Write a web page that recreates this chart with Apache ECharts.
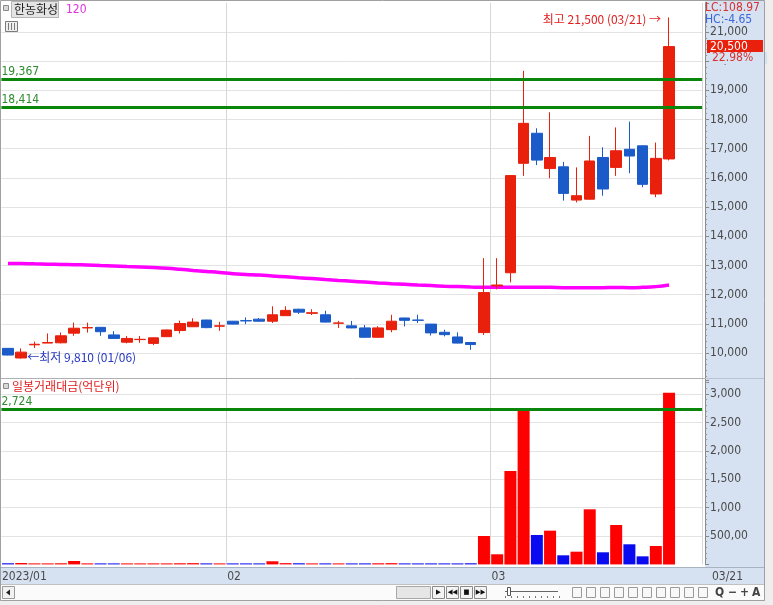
<!DOCTYPE html>
<html><head><meta charset="utf-8">
<script src="https://cdn.jsdelivr.net/npm/echarts@6.0.0/dist/echarts.min.js"></script>
<style>html,body{margin:0;padding:0;background:#fff}#c{width:773px;height:605px}</style>
</head><body><div id="c"></div>
<script>
// ---- data ----
const dates = ['01/05','01/06','01/09','01/10','01/11','01/12','01/13','01/16','01/17','01/18','01/19','01/20','01/25','01/26','01/27','01/30','01/31',
 '02/01','02/02','02/03','02/06','02/07','02/08','02/09','02/10','02/13','02/14','02/15','02/16','02/17','02/20','02/21','02/22','02/23','02/24','02/27','02/28',
 '03/02','03/03','03/06','03/07','03/08','03/09','03/10','03/13','03/14','03/15','03/16','03/17','03/20','03/21'];
const opens  = [10160,9830,10280,10340,10350,10680,10860,10880,10620,10370,10460,10330,10560,10770,10900,11130,10920,
 11090,11110,11160,11090,11280,11500,11360,11310,11020,10930,10860,10540,10800,11200,11130,10990,10710,10550,10360,10700,
 12300,12750,16500,17530,16320,16380,15240,15270,16700,16360,16980,17100,15450,16650];
const closes = [9930,10030,10300,10360,10590,10850,10870,10730,10500,10500,10470,10520,10790,11010,11060,10870,10930,
 10990,11100,11090,11310,11460,11400,11380,11060,11030,10860,10540,10860,11090,11120,11120,10690,10630,10340,10290,12070,
 12330,16080,17870,16610,16700,15470,15390,16580,15620,16930,16750,15780,16670,20500];
const lows   = [9920,9810,10170,10340,10330,10590,10700,10590,10490,10330,10350,10270,10550,10670,10890,10850,10760,
 10980,10990,11070,11030,11270,11340,11300,11050,10860,10850,10520,10530,10710,10910,11030,10600,10570,10330,10110,10620,
 12180,12420,16070,16440,15990,15220,15160,15260,15390,16070,16160,15680,15340,16600];
const highs  = [10170,10160,10390,10670,10700,11040,11040,10890,10750,10580,10580,10530,10800,11110,11190,11140,11070,
 11100,11220,11200,11600,11600,11520,11500,11450,11100,11100,10960,10920,11310,11210,11310,11000,10800,10710,10380,13250,
 13250,16080,19670,17700,18250,16550,16360,17440,17050,17730,17930,17110,17210,21500];
const ma120  = [13070,13065,13055,13045,13035,13025,13015,13000,12985,12965,12950,12930,12905,12870,12830,12795,12760,
 12715,12690,12670,12640,12610,12580,12550,12515,12485,12460,12430,12400,12375,12355,12330,12310,12290,12275,12260,12250,
 12250,12250,12255,12255,12250,12240,12235,12235,12240,12245,12240,12250,12275,12330];
const tradeValue = [20,25,15,15,20,60,18,15,14,15,12,18,16,20,22,18,15,
 16,15,14,55,22,20,14,18,15,14,18,20,22,15,14,18,15,16,20,500,
 178,1644,2724,518,594,160,224,970,213,694,354,142,324,3023];
const priceLevels = [19367, 18414];
const valueLevel = 2724;
const xMonthLabels = [{idx:0,text:'2023/01'},{idx:17,text:'02'},{idx:37,text:'03'}];
const lastDateLabel = '03/21';

// ---- style ----
const RED='#e8200c', BLUE='#1b5bc9', VRED='#ff0000', VBLUE='#0a0af0', GREEN='#0a860a', PANEL='#d6e2f1';
const NARROW='"Liberation Sans Narrow","DejaVu Sans Condensed",Arial,sans-serif';
const KR='"Noto Sans CJK KR","Noto Sans",sans-serif';
const cats = dates.concat(['','']);
function comma(v){return String(v).replace(/\B(?=(\d{3})+(?!\d))/g, ',');}

const priceSplit=[]; for(let v=9000; v<=22000; v+=1000) priceSplit.push((v===9000||v===22000)?'rgba(0,0,0,0)':'#e3e3e3');
const volSplit=[]; for(let v=0; v<=3000; v+=500) volSplit.push(v===0?'rgba(0,0,0,0)':'#e3e3e3'); volSplit.push('rgba(0,0,0,0)');

const chart = echarts.init(document.getElementById('c'), null, {renderer:'canvas', width:773, height:605});
const GL=1.4, GW=700.7;
const yAxisCommon = {
  position:'right', offset:3,
  axisLine:{show:true, lineStyle:{color:'#8a8a8a', width:1}},
  axisTick:{show:true, length:4, lineStyle:{color:'#8a8a8a'}},
  minorTick:{show:true, splitNumber:5, length:2, lineStyle:{color:'#9a9a9a'}},
  minorSplitLine:{show:false}
};
const labelStyle = {color:'#4a4a4a', fontFamily:NARROW, fontSize:12, margin:5};

chart.setOption({
  animation:false,
  backgroundColor:'#ffffff',
  grid:[
    {left:GL, width:GW, top:2.8, height:379.4, outerBoundsMode:'none', containLabel:false},
    {left:GL, width:GW, top:379.8, height:184.6, outerBoundsMode:'none', containLabel:false}
  ],
  xAxis:[
    {type:'category', gridIndex:0, data:cats, boundaryGap:true, axisLine:{show:false}, axisTick:{show:false}, axisLabel:{show:false},
     splitLine:{show:true, interval:(i)=>i===17||i===37, lineStyle:{color:'#d6d6d6'}}},
    {type:'category', gridIndex:1, data:cats, boundaryGap:true, axisLine:{show:false}, axisTick:{show:false}, axisLabel:{show:false},
     splitLine:{show:true, interval:(i)=>i===17||i===37, lineStyle:{color:'#d6d6d6'}}}
  ],
  yAxis:[
    Object.assign({type:'value', gridIndex:0, min:9000, max:22000, interval:1000, scale:false,
      axisLabel:Object.assign({formatter:(v)=>(v<10000||v>21000)?'':comma(v)}, labelStyle),
      splitLine:{show:true, lineStyle:{color:priceSplit, width:1}}}, yAxisCommon),
    Object.assign({type:'value', gridIndex:1, min:0, max:3250, interval:500,
      axisLabel:Object.assign({formatter:(v)=>v===0||v>3000?'':(v===500?'500,00':comma(v))}, labelStyle),
      splitLine:{show:true, lineStyle:{color:volSplit, width:1}}}, yAxisCommon)
  ],
  series:[
    {type:'line', name:'120', xAxisIndex:0, yAxisIndex:0, data:ma120, symbol:'none', smooth:true,
     lineStyle:{color:'#ff00ff', width:3.5}, z:2, silent:true},
    {type:'candlestick', xAxisIndex:0, yAxisIndex:0, barWidth:11, z:3,
     data:dates.map((d,i)=>[opens[i],closes[i],lows[i],highs[i]]),
     itemStyle:{color:RED, color0:BLUE, borderColor:RED, borderColor0:BLUE, borderWidth:1},
     markLine:{silent:true, symbol:['none','none'], animation:false,
       lineStyle:{color:GREEN, width:3, type:'solid'},
       label:{show:true, position:'insideStartTop', formatter:(p)=>comma(p.value), color:'#2e8b2e', fontFamily:NARROW, fontSize:12, distance:[0,2]},
       emphasis:{disabled:true},
       data:priceLevels.map(v=>({yAxis:v}))}
    },
    {type:'bar', xAxisIndex:1, yAxisIndex:1, barWidth:12, barMinHeight:1, z:3,
     data:tradeValue.map((v,i)=>({value:v, itemStyle:{color: closes[i]>=opens[i]?VRED:VBLUE}})),
     markLine:{silent:true, symbol:['none','none'], animation:false,
       lineStyle:{color:GREEN, width:3, type:'solid'},
       label:{show:true, position:'insideStartTop', formatter:(p)=>comma(p.value), color:'#2e8b2e', fontFamily:NARROW, fontSize:12, distance:[0,2]},
       emphasis:{disabled:true},
       data:[{yAxis:valueLevel}]}
    }
  ]
});

// ---- overlays positioned through the chart's own scales ----
const band = GW/cats.length;
const bx = (i)=>chart.convertToPixel({xAxisIndex:1}, i) - band/2;
const hiPt = chart.convertToPixel({gridIndex:0}, [dates.length-1, highs[dates.length-1]]);
let loIdx = 0; lows.forEach((v,i)=>{ if(v<lows[loIdx]) loIdx=i; });
const loPt = chart.convertToPixel({gridIndex:0}, [loIdx, lows[loIdx]]);
const lastClose = closes[closes.length-1], prevClose = closes[closes.length-2];
const lcY = chart.convertToPixel({yAxisIndex:0}, lastClose);
const pct = ((lastClose/prevClose-1)*100).toFixed(2);

const g = [];
// backgrounds
g.push({type:'rect', z:-10, shape:{x:705, y:0, width:60, height:585}, style:{fill:PANEL}});
g.push({type:'rect', z:-10, shape:{x:0, y:567.5, width:765, height:17}, style:{fill:PANEL, stroke:'#a9b4c2', lineWidth:1}});
g.push({type:'rect', z:-10, shape:{x:765, y:0, width:8, height:605}, style:{fill:'#eeeeee'}});
g.push({type:'line', z:5, shape:{x1:0, y1:378.5, x2:705, y2:378.5}, style:{stroke:'#b0b0b0', lineWidth:1}});
g.push({type:'line', z:5, shape:{x1:705, y1:378.5, x2:765, y2:378.5}, style:{stroke:'#b8c4d2', lineWidth:1}});
// header
g.push({type:'rect', z:10, shape:{x:3.5, y:5.5, width:5, height:5}, style:{fill:'#d8d8d8', stroke:'#8a8a8a', lineWidth:1}});
g.push({type:'rect', z:10, shape:{x:11.5, y:1.5, width:47, height:16}, style:{fill:'#e4e4e4', stroke:'#b4b4b4', lineWidth:1}});
g.push({type:'text', z:11, x:14, y:9.5, style:{text:'한농화성', fill:'#222', font:'12px '+KR, textVerticalAlign:'middle'}});
g.push({type:'text', z:11, x:66, y:9.5, style:{text:'120', fill:'#e030e0', font:'12px '+NARROW, textVerticalAlign:'middle'}});
g.push({type:'rect', z:10, shape:{x:5.5, y:21.5, width:12, height:10}, style:{fill:'#eeeeee', stroke:'#7a7a7a', lineWidth:1}});
[8.5,11.5,14.5].forEach(x=>g.push({type:'line', z:11, shape:{x1:x, y1:23, x2:x, y2:30}, style:{stroke:'#7a7a7a', lineWidth:1}}));
// right top texts
g.push({type:'text', z:11, x:705, y:8, style:{text:'LC:108.97', fill:'#d83030', font:'12px '+NARROW, textVerticalAlign:'middle'}});
g.push({type:'text', z:11, x:705, y:19.5, style:{text:'HC:-4.65', fill:'#3a66d6', font:'12px '+NARROW, textVerticalAlign:'middle'}});
g.push({type:'rect', z:11, shape:{x:707, y:lcY-6.5, width:56, height:13}, style:{fill:'#e8200c'}});
g.push({type:'text', z:12, x:710, y:lcY, style:{text:comma(lastClose), fill:'#ffffff', font:'12px '+NARROW, textVerticalAlign:'middle'}});
g.push({type:'text', z:12, x:710, y:lcY+11.5, style:{text:pct+'%', fill:'#d83030', font:'12px '+NARROW, textVerticalAlign:'middle', backgroundColor:PANEL, padding:[0,14,0,2]}});
// annotations
g.push({type:'text', z:12, x:hiPt[0]-8, y:hiPt[1]+2, style:{text:'최고 '+comma(highs[highs.length-1])+' ('+dates[dates.length-1]+') →', fill:'#e02020', font:'12px '+KR, textAlign:'right', textVerticalAlign:'middle'}});
g.push({type:'text', z:12, x:loPt[0]+6, y:loPt[1]-1, style:{text:'←최저 '+comma(lows[loIdx])+' ('+dates[loIdx]+')', fill:'#2638c0', font:'12px '+KR, textVerticalAlign:'middle'}});
// volume pane header
g.push({type:'rect', z:10, shape:{x:3.5, y:383.5, width:5, height:5}, style:{fill:'#d8d8d8', stroke:'#8a8a8a', lineWidth:1}});
g.push({type:'text', z:11, x:12, y:386.5, style:{text:'일봉거래대금(억단위)', fill:'#e02020', font:'12px '+KR, textVerticalAlign:'middle'}});
// x labels
xMonthLabels.forEach(m=>{
  const x = m.idx===0 ? 2 : bx(m.idx)+1;
  g.push({type:'text', z:11, x:x, y:576.5, style:{text:m.text, fill:'#4a4a4a', font:'12px '+NARROW, textVerticalAlign:'middle'}});
});
g.push({type:'text', z:11, x:712, y:576.5, style:{text:lastDateLabel, fill:'#4a4a4a', font:'12px '+NARROW, textVerticalAlign:'middle'}});
// toolbar
g.push({type:'rect', z:5, shape:{x:0.5, y:584.5, width:764, height:16}, style:{fill:'#fbfbfb', stroke:'#c0c0c0', lineWidth:1}});
g.push({type:'rect', z:6, shape:{x:2.5, y:586.5, width:12, height:12}, style:{fill:'#f2f2f2', stroke:'#9a9a9a', lineWidth:1}});
g.push({type:'polygon', z:7, shape:{points:[[6,592.5],[10,589.5],[10,595.5]]}, style:{fill:'#222'}});
g.push({type:'rect', z:6, shape:{x:396.5, y:586.5, width:34, height:12}, style:{fill:'#e6e6e6', stroke:'#a8a8a8', lineWidth:1}});
[432,446,460,474].forEach((x,k)=>{
  g.push({type:'rect', z:6, shape:{x:x+0.5, y:586.5, width:12, height:12}, style:{fill:'#f4f4f4', stroke:'#8a8a8a', lineWidth:1}});
  g.push({type:'text', z:7, x:x+6.5, y:592.5, style:{text:['▶','◀◀','■','▶▶'][k], fill:'#111', font:'7px '+NARROW, textAlign:'center', textVerticalAlign:'middle'}});
});
g.push({type:'line', z:6, shape:{x1:505, y1:591.5, x2:558, y2:591.5}, style:{stroke:'#666', lineWidth:1}});
g.push({type:'rect', z:6, shape:{x:507.5, y:587.5, width:3, height:8}, style:{fill:'#fff', stroke:'#555', lineWidth:1}});
for(let k=0;k<10;k++) g.push({type:'line', z:6, shape:{x1:505.5+k*6, y1:596, x2:505.5+k*6, y2:598}, style:{stroke:'#777', lineWidth:1}});
[572,586,600,614,628,642,656,670,684,698].forEach(x=>g.push({type:'rect', z:6, shape:{x:x+0.5, y:587.5, width:9, height:10}, style:{fill:'#f8f8f8', stroke:'#9a9a9a', lineWidth:1}}));
[['Q',715],['−',728],['+',740],['A',752]].forEach(t=>g.push({type:'text', z:7, x:t[1], y:592.5, style:{text:t[0], fill:'#444', font:'bold 12px '+NARROW, textVerticalAlign:'middle'}}));
// outer frame
g.push({type:'rect', z:20, shape:{x:0.5, y:0.5, width:764, height:600}, style:{fill:'none', stroke:'#a0a0a0', lineWidth:1}});
g.push({type:'rect', z:-10, shape:{x:0, y:601, width:773, height:4}, style:{fill:'#eeeeee'}});

chart.setOption({graphic:{elements:g}});
</script>
</body></html>
